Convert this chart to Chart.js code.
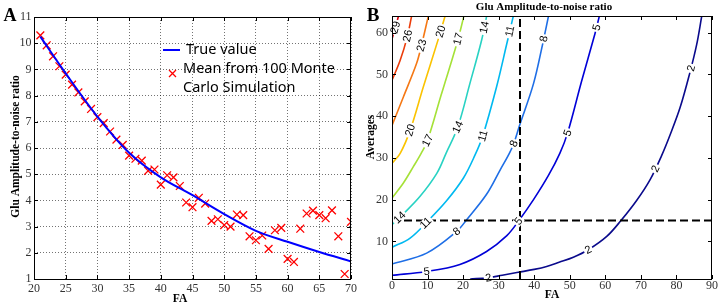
<!DOCTYPE html>
<html>
<head>
<meta charset="utf-8">
<script src="https://cdn.jsdelivr.net/npm/chart.js@4.4.1/dist/chart.umd.min.js"></script>
<style>
html, body { margin: 0; padding: 0; background: #fff; }
#wrap { position: relative; width: 720px; height: 306px; overflow: hidden; }
canvas { position: absolute; top: 0; }
#chartA { left: 0; }
#chartB { left: 360px; }
</style>
</head>
<body>
<div id="wrap">
	<canvas id="chartA" width="360" height="306"></canvas>
	<canvas id="chartB" width="360" height="306"></canvas>
</div>
<script>
// Panel A: true curve and Monte Carlo means
const faTrue = [21, 25, 30, 35, 40, 45, 50, 55, 60, 65, 70];
const snrTrue = [10.25, 8.85, 7.2, 5.82, 4.88, 4.2, 3.48, 2.84, 2.42, 2.03, 1.67];

const faMC = [21, 22, 23, 24, 25, 26, 27, 28, 29, 30, 31, 32, 33, 34, 35, 36, 37, 38, 39, 40,
	41, 42, 43, 44, 45, 46, 47, 48, 49, 50, 51, 52, 53, 54, 55, 56, 57, 58, 59, 60,
	61, 62, 63, 64, 65, 66, 67, 68, 69, 70];
const snrMC = [10.3, 9.92, 9.5, 9.12, 8.8, 8.42, 8.12, 7.78, 7.49, 7.18, 6.95, 6.63, 6.32, 6.12, 5.71, 5.59, 5.52, 5.13, 5.18, 4.6,
	4.96, 4.88, 4.55, 3.92, 3.74, 4.1, 3.88, 3.22, 3.28, 3.06, 3.0, 3.46, 3.44, 2.63, 2.48, 2.66, 2.15, 2.86, 2.95, 1.77,
	1.65, 2.92, 3.5, 3.61, 3.44, 3.32, 3.62, 2.63, 1.19, 3.18];

const xTicksA = [20, 25, 30, 35, 40, 45, 50, 55, 60, 65, 70];
const yTicksA = [1, 2, 3, 4, 5, 6, 7, 8, 9, 10, 11];

// Panel B: contour lines [FA, Averages]
const levels = [2, 5, 8, 11, 14, 17, 20, 23, 26, 29];
const c2 = [[22, 1], [27, 1.3], [31, 1.9], [35.5, 2.6], [40, 3.3], [43.5, 4.0], [47, 5.0], [51, 6.2], [55.2, 8.0], [60.4, 11.2],
	[64.4, 15.0], [68.8, 19.8], [72.6, 24.8], [75.8, 30.5], [78.2, 35.5], [81, 42], [83.8, 50.5], [85.7, 57.2], [87.1, 63.9]];
const c5 = [[0, 1.9], [9.75, 2.8], [19.1, 4.5], [26.6, 7.6], [32.3, 11.4], [35.7, 15], [39.8, 20.0], [44.0, 25.8], [47.2, 31.1],
	[49.4, 36.0], [53.3, 48.3], [57.1, 59.8], [58.3, 63.9]];
const c8 = [[0, 4.6], [9.75, 7.2], [18.2, 12.4], [21.0, 15.2], [26.6, 21.3], [30.4, 27.1], [33.0, 31.1], [34.3, 33.6], [35.8, 37.6],
	[39.8, 47.8], [42.4, 57.4], [44.0, 63.9]];
const c11 = [[0, 8.6], [5.1, 10.8], [10.2, 15.0], [15.4, 19.8], [20.1, 25.2], [23.3, 30.6], [25.5, 35.2], [29.4, 47.0], [32.3, 57.4], [34.1, 63.9]];
const c14 = [[0, 14.0], [3.2, 16.6], [7.9, 20.8], [12.6, 26.3], [15.2, 31.1], [18.5, 37.4], [21.9, 47.8], [25.2, 58.2], [26.6, 63.9]];
const c17 = [[0, 20.4], [3.2, 24.0], [6.0, 27.9], [8.2, 31.1], [10.0, 34.2], [13.8, 45.0], [18.3, 57.6], [20.2, 63.9]];
const c20 = [[0, 28.7], [2.3, 31.1], [5.1, 36.6], [8.8, 47.0], [13.0, 58.4], [14.9, 63.9]];
const c23 = [[0, 37.8], [3.2, 44.6], [6.9, 52.6], [8.3, 57.0], [10.2, 63.9]];
const c26 = [[0, 48.6], [2.3, 53.4], [4.3, 59.0], [5.5, 63.9]];
const c29 = [[0, 58.5], [1.0, 61.5], [1.8, 63.9]];
const contours = [c2, c5, c8, c11, c14, c17, c20, c23, c26, c29];

// contour label spots [level, FA, Averages]
const contourLabels = [
	[29, 0.9, 61.3], [26, 4.3, 59.3], [23, 8.2, 57.0], [20, 13.6, 60.3], [17, 18.6, 58.5], [14, 25.8, 61.3],
	[11, 33.4, 60.3], [8, 42.8, 58.5], [5, 57.5, 61.3], [2, 84.0, 51.5],
	[20, 5.3, 36.6], [17, 10.0, 34.2], [14, 18.5, 37.4], [11, 25.5, 35.3], [8, 34.3, 33.4], [5, 49.4, 36.0], [2, 74.4, 27.3],
	[14, 1.8, 16.0], [11, 9.6, 14.3], [8, 18.2, 12.4], [5, 35.6, 14.8], [2, 55.2, 8.0],
	[5, 9.75, 2.8], [2, 27.1, 1.3]
];

const refFA = 36;
const refAvg = 15;

const xTicksB = [0, 10, 20, 30, 40, 50, 60, 70, 80, 90];
const yTicksB = [10, 20, 30, 40, 50, 60];

const jetColors = ["rgb(10,10,140)", "rgb(0,0,215)", "rgb(30,110,230)", "rgb(0,185,240)", "rgb(40,210,195)",
	"rgb(165,225,55)", "rgb(250,195,0)", "rgb(245,120,20)", "rgb(235,60,10)", "rgb(215,0,10)"];

const tickFont = { family: "Liberation Serif", size: 12 };
const serifBold = "bold 11.5px 'Liberation Serif'";

function drawText(ctx, text, x, y, font, rot) {
	ctx.save();
	ctx.translate(x, y);
	if (rot) ctx.rotate(rot);
	ctx.font = font;
	ctx.textAlign = "center";
	ctx.textBaseline = "middle";
	ctx.fillStyle = "#000";
	ctx.fillText(text, 0, 0);
	ctx.restore();
}

// box and inner tick marks, matlab style
const frame = {
	id: "frame",
	afterDraw(chart) {
		const { ctx, chartArea: a, scales: { x, y } } = chart;
		ctx.save();
		ctx.strokeStyle = "#000";
		ctx.lineWidth = 1;
		ctx.beginPath();
		x.ticks.forEach(t => {
			const px = Math.round(x.getPixelForValue(t.value)) + 0.5;
			ctx.moveTo(px, a.bottom); ctx.lineTo(px, a.bottom - 4);
			ctx.moveTo(px, a.top); ctx.lineTo(px, a.top + 4);
		});
		y.ticks.forEach(t => {
			const py = Math.round(y.getPixelForValue(t.value)) + 0.5;
			ctx.moveTo(a.left, py); ctx.lineTo(a.left + 4, py);
			ctx.moveTo(a.right, py); ctx.lineTo(a.right - 4, py);
		});
		ctx.stroke();
		ctx.strokeRect(Math.round(a.left) + 0.5, Math.round(a.top) + 0.5, Math.round(a.width) - 1, Math.round(a.height));
		ctx.restore();
	}
};

const textA = {
	id: "textA",
	afterDraw(chart) {
		const ctx = chart.ctx;
		drawText(ctx, "A", 10, 16, "bold 18px 'Liberation Serif'");
		drawText(ctx, "Glu Amplitude-to-noise ratio", 16.5, 146.5, serifBold, -Math.PI / 2);
		drawText(ctx, "FA", 180, 299, serifBold);
		// legend
		ctx.save();
		ctx.strokeStyle = "rgb(0,0,255)";
		ctx.lineWidth = 2;
		ctx.beginPath(); ctx.moveTo(163, 50); ctx.lineTo(180, 50); ctx.stroke();
		ctx.strokeStyle = "rgb(255,0,0)";
		ctx.lineWidth = 1.3;
		ctx.beginPath();
		ctx.moveTo(169, 70); ctx.lineTo(176, 77);
		ctx.moveTo(176, 70); ctx.lineTo(169, 77);
		ctx.stroke();
		ctx.font = "14.5px 'Noto Sans'";
		ctx.fillStyle = "#000";
		ctx.textBaseline = "middle";
		ctx.textAlign = "left";
		ctx.fillText("True value", 186, 50);
		ctx.fillText("Mean from 100 Monte", 183, 69);
		ctx.fillText("Carlo Simulation", 183, 88);
		ctx.restore();
	}
};

const textB = {
	id: "textB",
	afterDatasetsDraw(chart) {
		const { ctx, scales: { x, y } } = chart;
		ctx.save();
		ctx.font = "11px 'Liberation Sans'";
		ctx.textAlign = "center";
		ctx.textBaseline = "middle";
		contourLabels.forEach(([lev, fa, avg]) => {
			const pts = contours[levels.indexOf(lev)].map(p => [x.getPixelForValue(p[0]), y.getPixelForValue(p[1])]);
			const lx = x.getPixelForValue(fa), ly = y.getPixelForValue(avg);
			let best = null;
			for (let i = 0; i < pts.length - 1; i++) {
				const [x0, y0] = pts[i], [x1, y1] = pts[i + 1];
				const dx = x1 - x0, dy = y1 - y0;
				let t = ((lx - x0) * dx + (ly - y0) * dy) / (dx * dx + dy * dy);
				t = Math.max(0, Math.min(1, t));
				const qx = x0 + t * dx, qy = y0 + t * dy;
				const d = (qx - lx) ** 2 + (qy - ly) ** 2;
				if (!best || d < best.d) best = { d, qx, qy, ang: Math.atan2(dy, dx) };
			}
			const w = ctx.measureText(String(lev)).width;
			ctx.save();
			ctx.translate(best.qx, best.qy);
			ctx.rotate(best.ang);
			ctx.fillStyle = "#fff";
			ctx.fillRect(-w / 2 - 1.5, -4.5, w + 3, 9);
			ctx.fillStyle = "#000";
			ctx.fillText(String(lev), 0, 0.5);
			ctx.restore();
		});
		ctx.restore();
	},
	afterDraw(chart) {
		const ctx = chart.ctx;
		drawText(ctx, "B", 13, 16, "bold 19px 'Liberation Serif'");
		drawText(ctx, "Glu Amplitude-to-noise ratio", 184, 7.5, "bold 11px 'Liberation Serif'");
		drawText(ctx, "Averages", 11, 137, serifBold, -Math.PI / 2);
		drawText(ctx, "FA", 192, 295, serifBold);
	}
};

new Chart(document.getElementById("chartA"), {
	type: "scatter",
	data: {
		datasets: [{
			label: "True value",
			data: faTrue.map((v, i) => ({ x: v, y: snrTrue[i] })),
			showLine: true,
			borderColor: "rgb(0,0,255)",
			borderWidth: 2,
			pointRadius: 0,
			cubicInterpolationMode: "monotone"
		}, {
			label: "Mean from 100 Monte Carlo Simulation",
			data: faMC.map((v, i) => ({ x: v, y: snrMC[i] })),
			pointStyle: "crossRot",
			pointRadius: 5.5,
			borderColor: "rgb(255,0,0)",
			backgroundColor: "rgb(255,0,0)",
			borderWidth: 1.3
		}]
	},
	options: {
		responsive: false,
		animation: false,
		events: [],
		layout: { padding: { top: 17, right: 7, left: 0, bottom: 0 } },
		plugins: { legend: { display: false }, tooltip: { enabled: false } },
		scales: {
			x: {
				type: "linear", min: 20, max: 70,
				afterBuildTicks: s => { s.ticks = xTicksA.map(v => ({ value: v })); },
				afterFit: s => { s.height = 27; },
				grid: { color: "rgba(0,0,0,0.55)", drawTicks: false },
				border: { display: false, dash: [1, 2] },
				ticks: { padding: 3, color: "#333", font: tickFont, maxRotation: 0, autoSkip: false }
			},
			y: {
				type: "linear", min: 1, max: 11,
				afterBuildTicks: s => { s.ticks = yTicksA.map(v => ({ value: v })); },
				afterFit: s => { s.width = 34; },
				grid: { color: "rgba(0,0,0,0.55)", drawTicks: false },
				border: { display: false, dash: [1, 2] },
				ticks: { padding: 2.5, color: "#333", font: tickFont, autoSkip: false }
			}
		}
	},
	plugins: [frame, textA]
});

const refSets = [{
	data: [{ x: refFA, y: 1 }, { x: refFA, y: 64 }],
	showLine: true, borderColor: "#000", borderWidth: 2, borderDash: [8, 4], pointRadius: 0
}, {
	data: [{ x: 0, y: refAvg }, { x: 90, y: refAvg }],
	showLine: true, borderColor: "#000", borderWidth: 2, borderDash: [8, 4], pointRadius: 0
}];

new Chart(document.getElementById("chartB"), {
	type: "scatter",
	data: {
		datasets: refSets.concat(levels.map((lev, i) => ({
			label: String(lev),
			data: contours[i].map(p => ({ x: p[0], y: p[1] })),
			showLine: true,
			borderColor: jetColors[i],
			borderWidth: 1.6,
			pointRadius: 0,
			tension: 0.35
		})))
	},
	options: {
		responsive: false,
		animation: false,
		events: [],
		layout: { padding: { top: 16, right: 8, left: 0, bottom: 0 } },
		plugins: { legend: { display: false }, tooltip: { enabled: false } },
		scales: {
			x: {
				type: "linear", min: 0, max: 90,
				afterBuildTicks: s => { s.ticks = xTicksB.map(v => ({ value: v })); },
				afterFit: s => { s.height = 27; },
				grid: { display: false, drawTicks: false },
				border: { display: false },
				ticks: { padding: 0, color: "#333", font: tickFont, maxRotation: 0, autoSkip: false }
			},
			y: {
				type: "linear", min: 1, max: 64,
				afterBuildTicks: s => { s.ticks = yTicksB.map(v => ({ value: v })); },
				afterFit: s => { s.width = 32; },
				grid: { display: false, drawTicks: false },
				border: { display: false },
				ticks: { padding: 4, color: "#333", font: tickFont, autoSkip: false }
			}
		}
	},
	plugins: [frame, textB]
});
</script>
</body>
</html>
